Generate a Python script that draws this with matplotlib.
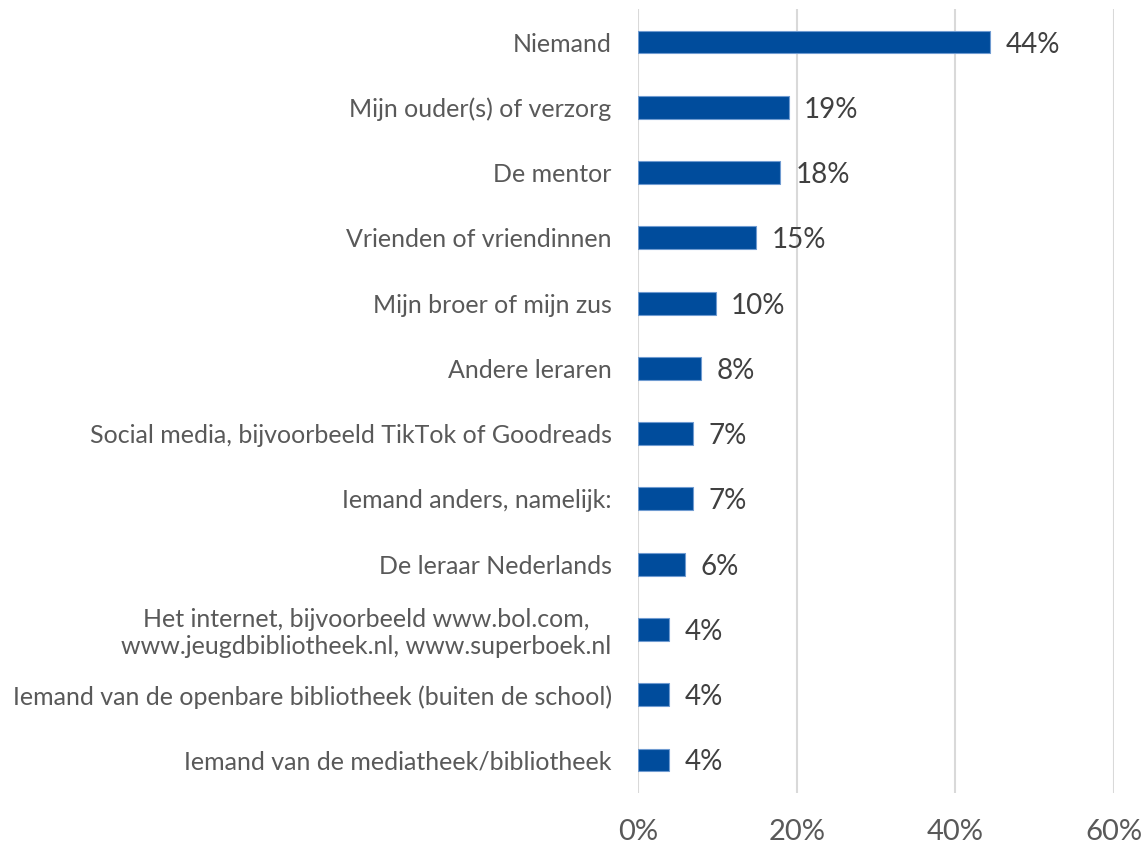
import matplotlib.pyplot as plt
import numpy as np

# categories, top to bottom
categories = [
    "Niemand",
    "Mijn ouder(s) of verzorg",
    "De mentor",
    "Vrienden of vriendinnen",
    "Mijn broer of mijn zus",
    "Andere leraren",
    "Social media, bijvoorbeeld TikTok of Goodreads",
    "Iemand anders, namelijk:",
    "De leraar Nederlands",
    "Het internet, bijvoorbeeld www.bol.com,\nwww.jeugdbibliotheek.nl, www.superboek.nl",
    "Iemand van de openbare bibliotheek (buiten de school)",
    "Iemand van de mediatheek/bibliotheek",
]
values = [44.4, 19.0, 17.9, 14.9, 9.8, 8.0, 6.9, 6.9, 5.9, 3.9, 3.9, 3.9]
xticks = [0, 20, 40, 60]

plt.rcParams['font.family'] = ['Lato', 'DejaVu Sans']

fig = plt.figure(figsize=(11.43, 8.46), dpi=100)
ax = fig.add_axes([0.5582, 0.0631, 0.9746 - 0.5582, 0.9889 - 0.0631])

y = np.arange(len(categories))
ax.barh(y, values, height=0.35, color='#004C9C', edgecolor='#6F9BD1', linewidth=0.8, zorder=3)

# data labels
for yi, v in zip(y, values):
    ax.annotate(f"{v:.0f}%", xy=(v, yi), xytext=(11, 0), textcoords='offset points',
                ha='left', va='center_baseline', fontsize=20, color='#404040')

ax.set_xlim(0, 60)
ax.set_ylim(len(categories) - 0.5, -0.5)
ax.set_xticks(xticks)
ax.set_xticklabels([f"{t}%" for t in xticks])
ax.set_yticks(y)
ax.set_yticklabels(categories, multialignment='center')

ax.tick_params(axis='x', length=0, pad=19, labelsize=21, labelcolor='#595959')
ax.tick_params(axis='y', length=0, pad=19, labelsize=18, labelcolor='#595959')

ax.grid(axis='x', color='#D9D9D9', linewidth=1.5)
ax.grid(axis='y', visible=False)
ax.set_axisbelow(True)
for s in ax.spines.values():
    s.set_visible(False)

fig.savefig('out.png', dpi=100)
